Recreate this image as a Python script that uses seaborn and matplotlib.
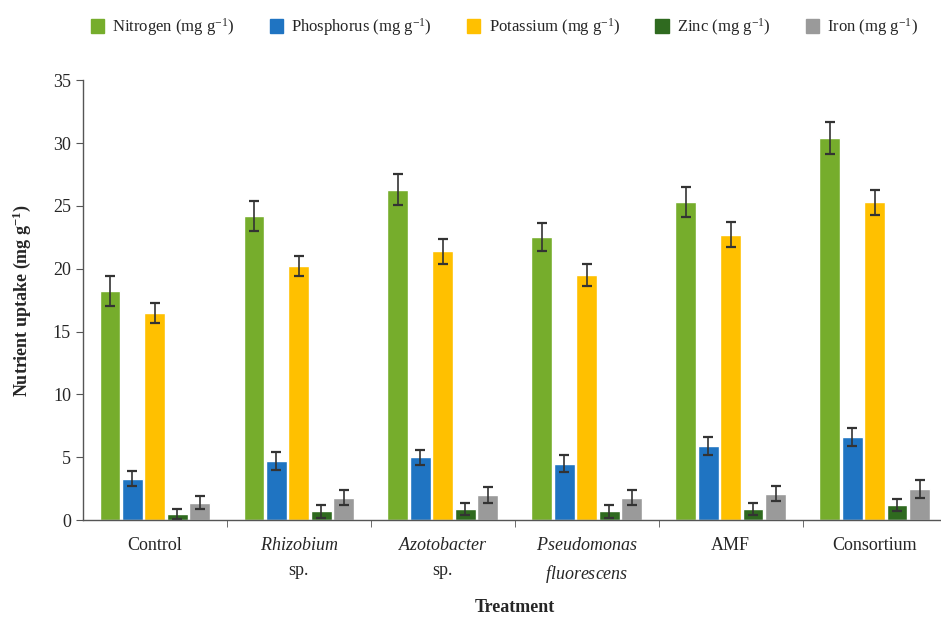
import numpy as np
import pandas as pd
import matplotlib
matplotlib.use("Agg")
import matplotlib.pyplot as plt
import seaborn as sns

treatments = ["Control", "Rhizobium sp.", "Azotobacter sp.", "Pseudomonas fluorescens", "AMF", "Consortium"]
tick_labels = ["Control", r"$\it{Rhizobium}$" + "\nsp.", r"$\it{Azotobacter}$" + "\nsp.",
               r"$\it{Pseudomonas}$" + "\n" + r"$\it{fluorescens}$", "AMF", "Consortium"]
nutrients = ["Nitrogen", "Phosphorus", "Potassium", "Zinc", "Iron"]

nitrogen = [18.2, 24.2, 26.3, 22.5, 25.3, 30.4]
nitrogen_err = [1.2, 1.2, 1.2, 1.1, 1.2, 1.3]
phosphorus = [3.3, 4.7, 5.0, 4.5, 5.9, 6.6]
phosphorus_err = [0.6, 0.7, 0.6, 0.7, 0.7, 0.7]
potassium = [16.5, 20.2, 21.4, 19.5, 22.7, 25.3]
potassium_err = [0.8, 0.8, 1.0, 0.9, 1.0, 1.0]
zinc = [0.5, 0.7, 0.9, 0.7, 0.9, 1.2]
zinc_err = [0.4, 0.5, 0.5, 0.5, 0.5, 0.5]
iron = [1.4, 1.8, 2.0, 1.8, 2.1, 2.5]
iron_err = [0.5, 0.6, 0.6, 0.6, 0.6, 0.7]

values = [nitrogen, phosphorus, potassium, zinc, iron]
errors = [nitrogen_err, phosphorus_err, potassium_err, zinc_err, iron_err]
colors = ["#76ad2c", "#1f74c2", "#ffc000", "#2f6a1f", "#9a9a9a"]

rows = []
for n, vals in zip(nutrients, values):
    for t, v in zip(treatments, vals):
        rows.append({"Treatment": t, "Nutrient": n, "Uptake": v})
df = pd.DataFrame(rows)

sns.set_style("white")
plt.rcParams["font.family"] = ["Liberation Serif", "DejaVu Serif"]
plt.rcParams["mathtext.fontset"] = "custom"
plt.rcParams["mathtext.rm"] = "Liberation Serif"
plt.rcParams["mathtext.it"] = "Liberation Serif:italic"
plt.rcParams["mathtext.bf"] = "Liberation Serif:bold"
plt.rcParams["axes.unicode_minus"] = False

fig = plt.figure(figsize=(9.41, 6.17), dpi=100)
ax = fig.add_axes([0.088, 0.157, 0.918, 0.713])

sns.barplot(data=df, x="Treatment", y="Uptake", hue="Nutrient", order=treatments,
            hue_order=nutrients, palette=colors, width=0.78, gap=0.08,
            errorbar=None, ax=ax, legend=False, saturation=1)

for cont, err in zip(ax.containers, errors):
    xs = [p.get_x() + p.get_width() / 2 for p in cont]
    ys = [p.get_height() for p in cont]
    ax.errorbar(xs, ys, yerr=err, fmt="none", ecolor="#333333", elinewidth=1.2,
                capsize=3.5, capthick=1.6)

ax.set_ylim(0, 35)
ax.set_xlim(-0.5, 5.5)
ax.set_yticks(range(0, 36, 5))
ax.set_xticks(range(len(treatments)))
ax.set_xticklabels(tick_labels, fontsize=13, linespacing=1.6)
ax.tick_params(axis="x", which="major", length=0, pad=12)
ax.set_xticks(np.arange(0.5, 5.5, 1), minor=True)
ax.tick_params(axis="x", which="minor", length=5, color="#555555", direction="out", bottom=True)
ax.tick_params(axis="y", labelsize=13, length=5, color="#555555", direction="out", left=True)
for s in ["top", "right"]:
    ax.spines[s].set_visible(False)
for s in ["left", "bottom"]:
    ax.spines[s].set_color("#555555")
    ax.spines[s].set_linewidth(1.0)

ax.set_xlabel("Treatment", fontsize=13, fontweight="bold", labelpad=10)
ax.set_ylabel(r"Nutrient uptake (mg g$^{\mathbf{-1}}$)", fontsize=13, fontweight="bold", labelpad=14)

handles = [plt.Rectangle((0, 0), 1, 1, color=c) for c in colors]
labels = [n + r" (mg g$^{-1}$)" for n in nutrients]
fig.legend(handles, labels, loc="upper center", bbox_to_anchor=(0.536, 0.998), ncol=5,
           frameon=False, fontsize=12, handlelength=0.8, handleheight=0.9,
           handletextpad=0.5, columnspacing=2.1)

fig.savefig("out.png", dpi=100)
